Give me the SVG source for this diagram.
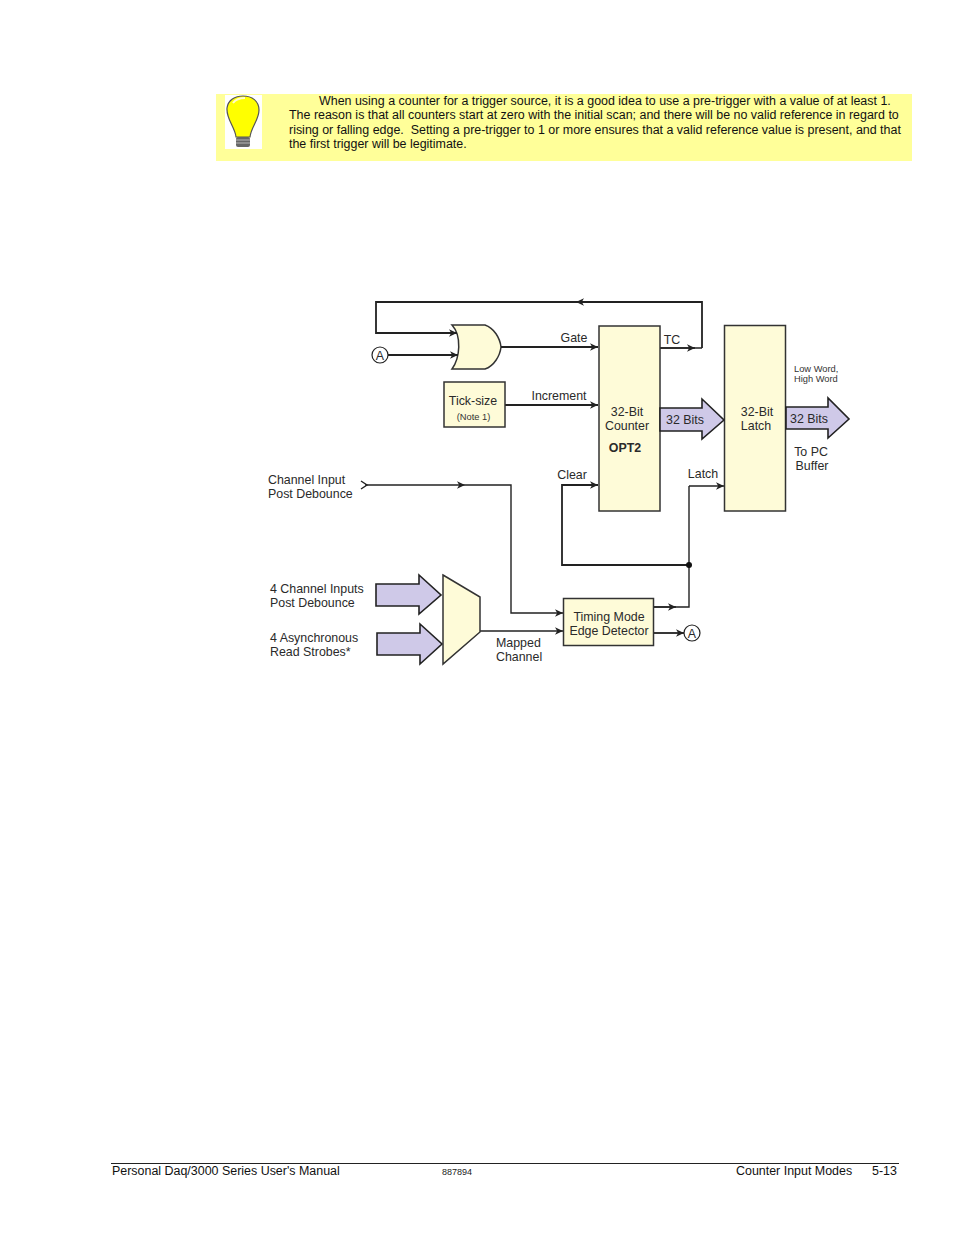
<svg xmlns="http://www.w3.org/2000/svg" width="954" height="1235" viewBox="0 0 954 1235">
<style>
text{font-family:"Liberation Sans",Arial,sans-serif;fill:#222}
.n{font-size:12.45px;fill:#111}
.d{font-size:12.4px;fill:#2a2a2a}
.s{font-size:9.3px;fill:#333}
.f{font-size:12.45px;fill:#111}
.box{fill:#fefbd8;stroke:#333;stroke-width:1.5}
.arr{fill:#cfc9e8;stroke:#222;stroke-width:1.6}
.w{fill:none;stroke:#222;stroke-width:1.4}
.t{fill:none;stroke:#222;stroke-width:1.8}
.c{fill:#fff;stroke:#222;stroke-width:1.2}
.m{text-anchor:middle}
</style>
<defs>
<marker id="h" markerUnits="userSpaceOnUse" markerWidth="11" markerHeight="9" refX="8" refY="4.500" orient="auto"><path d="M0,0.8 L8,4.500 L0,8.200 L2.200,4.500 Z" fill="#222"/></marker>
</defs>
<rect width="954" height="1235" fill="#fff"/>
<g id="note">
<rect x="216" y="94" width="696" height="67" fill="#ffff99"/>
<rect x="225" y="95" width="37" height="54" fill="#fff"/>
<g id="bulb">
<path d="M236,137 C235,127 226,119 227,108 C228,100 235,96 243,96 C252,96 259,101 259,110 C259,120 251,127 250,137 Z" fill="#ffff00" stroke="#555" stroke-width="1.2"/>
<path d="M233,103 C236,99 241,98 245,98" fill="none" stroke="#fffbd0" stroke-width="2"/>
<rect x="236" y="137" width="14" height="10" rx="2" fill="#666"/>
<path d="M236,140 H250 M236,143 H250" stroke="#ccc" stroke-width="0.8"/>
</g>
<text class="n" x="319" y="105">When using a counter for a trigger source, it is a good idea to use a pre-trigger with a value of at least 1.</text>
<text class="n" x="289" y="119">The reason is that all counters start at zero with the initial scan; and there will be no valid reference in regard to</text>
<text class="n" x="289" y="134" xml:space="preserve">rising or falling edge.  Setting a pre-trigger to 1 or more ensures that a valid reference value is present, and that</text>
<text class="n" x="289" y="148">the first trigger will be legitimate.</text>
</g>
<g id="or-gate"><path class="box" d="M452,325 H485 C494,328 500,338 501,347 C500,356 494,366 485,369 H452 C460,358 462,336 452,325 Z"/></g>
<g id="connectors">
<path class="t" d="M702,348 V302 H376 V333 H457" marker-end="url(#h)"/>
<path class="w" d="M702,302 H576" marker-end="url(#h)"/>
<path class="t" d="M388,355 H458" marker-end="url(#h)"/>
<path class="t" d="M501,347 H598" marker-end="url(#h)"/>
<path class="t" d="M505,405 H598" marker-end="url(#h)"/>
<path class="w" d="M660,348 H702"/>
<path class="w" d="M660,348 H695" marker-end="url(#h)"/>
<path class="w" d="M365,485 H465" marker-end="url(#h)"/>
<path class="w" d="M465,485 H511 V613 H563" marker-end="url(#h)"/>
<path class="t" d="M598,485 H562 V565 H689"/>
<path class="w" d="M562,485 H598" marker-end="url(#h)"/>
<path class="w" d="M689,486 H724" marker-end="url(#h)"/>
<path class="w" d="M689,486 V607 H654"/>
<path class="w" d="M654,607 H676" marker-end="url(#h)"/>
<path class="w" d="M480,631 H563" marker-end="url(#h)"/>
<path class="t" d="M654,633 H684" marker-end="url(#h)"/>
<path class="w" d="M361,481 L367,485 L361,489"/>
<circle cx="689" cy="565" r="3" fill="#111"/>
</g>
<g id="a-top"><circle class="c" cx="380" cy="355" r="8"/><text class="d m" x="380" y="360">A</text></g>
<g id="tick-size"><rect class="box" x="444" y="382" width="61" height="45"/><text class="d m" x="473" y="405">Tick-size</text><text class="s m" x="473.500" y="420">(Note 1)</text></g>
<g id="counter"><rect class="box" x="599" y="326" width="61" height="185"/><text class="d m" x="627" y="416">32-Bit</text><text class="d m" x="627" y="430">Counter</text><text class="d m" x="625" y="452" font-weight="bold">OPT2</text></g>
<g id="latch"><rect class="box" x="724.500" y="325.500" width="61" height="185.500"/><text class="d m" x="757" y="416">32-Bit</text><text class="d m" x="756" y="430">Latch</text></g>
<g id="bits-1"><path class="arr" d="M660,408 H702 V399 L724,420 L702,439 V431 H660 Z"/><text class="d m" x="685" y="424">32 Bits</text></g>
<g id="bits-2"><path class="arr" d="M786,407 H828 V398 L849,419 L828,438 V429 H786 Z"/><text class="d m" x="809" y="423">32 Bits</text></g>
<g id="input-1"><path class="arr" d="M376,584 H419 V575 L441,595 L419,614 V606 H376 Z"/></g>
<g id="input-2"><path class="arr" d="M377,633 H420 V624 L442,644 L420,664 V655 H377 Z"/></g>
<g id="mux"><path class="box" d="M443,575 L480,597 V632 L443,664 Z"/></g>
<g id="edge-detector"><rect class="box" x="563.500" y="598.500" width="90" height="47"/><text class="d m" x="609" y="621">Timing Mode</text><text class="d m" x="609" y="635">Edge Detector</text></g>
<g id="a-bottom"><circle class="c" cx="692" cy="633" r="8"/><text class="d m" x="692" y="638">A</text></g>
<g id="labels">
<text class="d m" x="574" y="342">Gate</text>
<text class="d m" x="672" y="344">TC</text>
<text class="d m" x="559" y="400">Increment</text>
<text class="d m" x="572" y="479">Clear</text>
<text class="d m" x="703" y="478">Latch</text>
<text class="s" x="794" y="372">Low Word,</text>
<text class="s" x="794" y="382">High Word</text>
<text class="d m" x="811" y="456">To PC</text>
<text class="d m" x="812" y="470">Buffer</text>
<text class="d" x="268" y="484">Channel Input</text>
<text class="d" x="268" y="498">Post Debounce</text>
<text class="d" x="270" y="593">4 Channel Inputs</text>
<text class="d" x="270" y="607">Post Debounce</text>
<text class="d" x="270" y="642">4 Asynchronous</text>
<text class="d" x="270" y="656">Read Strobes*</text>
<text class="d" x="496" y="647">Mapped</text>
<text class="d" x="496" y="661">Channel</text>
</g>
<g id="footer">
<path d="M111,1163.500 H899" stroke="#222" stroke-width="1"/>
<text class="f" x="112" y="1175">Personal Daq/3000 Series User's Manual</text>
<text x="442" y="1175" font-size="9">887894</text>
<text class="f" x="736" y="1175">Counter Input Modes</text>
<text class="f" x="872" y="1175">5-13</text>
</g>
</svg>
